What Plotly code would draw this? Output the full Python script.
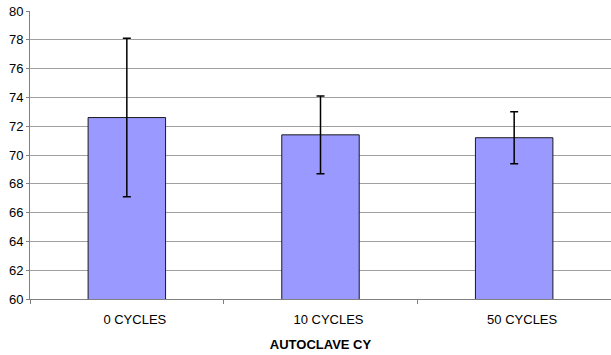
import plotly.graph_objects as go

categories = ["0 CYCLES", "10 CYCLES", "50 CYCLES"]
means = [72.6, 71.4, 71.2]
errors = [5.5, 2.7, 1.8]
y_ticks = [60, 62, 64, 66, 68, 70, 72, 74, 76, 78, 80]
x_title = "AUTOCLAVE CY"

fig = go.Figure()
fig.add_trace(go.Bar(
    x=categories,
    y=means,
    marker=dict(color="#9999FF", line=dict(color="#1a1a1a", width=1)),
    error_y=dict(type="data", array=errors, visible=True,
                 color="#000000", thickness=1.5, width=4),
    width=0.4,
))

font = dict(family="Liberation Sans, Arial, sans-serif", size=13, color="#000000")

fig.update_layout(
    width=611, height=355,
    margin=dict(l=30, r=0, t=11, b=56),
    paper_bgcolor="white", plot_bgcolor="white",
    font=font,
    showlegend=False,
    xaxis=dict(
        type="category",
        showline=True, linecolor="#808080", linewidth=1,
        ticks="outside", tickson="boundaries", ticklen=4, tickcolor="#808080",
        showgrid=False,
        ticklabelshift=8,
        ticklabelstandoff=8,
        title=dict(text="<b>" + x_title + "</b>", font=dict(size=13), standoff=14),
        automargin=False,
    ),
    yaxis=dict(
        range=[60, 80],
        tickvals=y_ticks,
        showline=True, linecolor="#808080", linewidth=1,
        ticks="outside", ticklen=3, tickcolor="#808080",
        showgrid=True, gridcolor="#a0a0a0", gridwidth=1,
        zeroline=False,
        automargin=False,
    ),
)

fig.write_html("out.html", config={"displayModeBar": False},
               post_script="document.body.style.margin='0';")
